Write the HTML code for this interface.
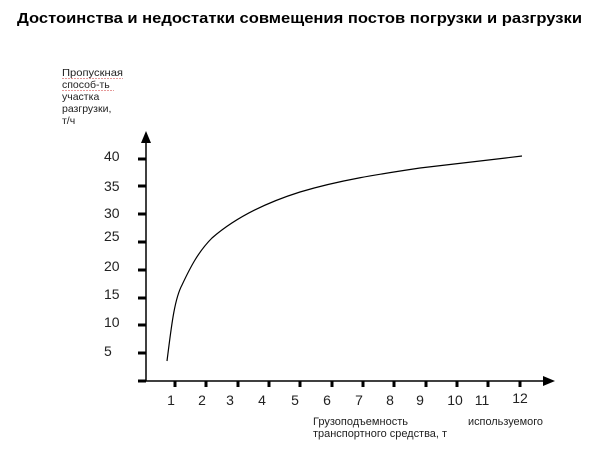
<!DOCTYPE html>
<html><head><meta charset="utf-8"><style>html,body{margin:0;padding:0;background:#fff}svg{display:block}</style></head>
<body>
<svg width="606" height="451" viewBox="0 0 606 451" xmlns="http://www.w3.org/2000/svg" font-family="Liberation Sans, sans-serif">
<text x="17" y="23" font-size="15" font-weight="bold" textLength="565" lengthAdjust="spacingAndGlyphs">Достоинства и недостатки совмещения постов погрузки и разгрузки</text>
<g font-size="10.5" fill="#222">
<text x="62" y="76" textLength="61" lengthAdjust="spacingAndGlyphs">Пропускная</text>
<text x="62" y="88">способ-ть</text>
<text x="62" y="100">участка</text>
<text x="62" y="112">разгрузки,</text>
<text x="62" y="124">т/ч</text>
</g>
<path d="M62 78.5h61M62 90.5h52" stroke="#c33" stroke-width="0.6" stroke-dasharray="2 1"/>
<line x1="146" y1="140" x2="146" y2="381" stroke="#000" stroke-width="1.5"/>
<polygon points="146,131 141,143 151,143" fill="#000"/>
<line x1="146" y1="381" x2="545" y2="381" stroke="#000" stroke-width="1.5"/>
<polygon points="555,381 543,376 543,386" fill="#000"/>
<g stroke="#000" stroke-width="3">
<path d="M138 159h8M138 186h8M138 214h8M138 242h8M138 270h8M138 298h8M138 325h8M138 353h8M138 381h8"/>
<path d="M175 381v6M206 381v6M238 381v6M269 381v6M300 381v6M332 381v6M363 381v6M394 381v6M426 381v6M457 381v6M488 381v6M520 381v6"/>
</g>
<g font-size="14" fill="#222">
<text x="104" y="161">40</text><text x="104" y="191">35</text><text x="104" y="218">30</text><text x="104" y="241">25</text><text x="104" y="271">20</text><text x="104" y="299">15</text><text x="104" y="327">10</text><text x="104" y="356">5</text>
</g>
<g font-size="14" fill="#222" text-anchor="middle">
<text x="171" y="405">1</text><text x="202" y="405">2</text><text x="230" y="405">3</text><text x="262" y="405">4</text><text x="295" y="405">5</text><text x="327" y="405">6</text><text x="359" y="405">7</text><text x="390" y="405">8</text><text x="420" y="405">9</text><text x="455" y="405">10</text><text x="482" y="405">11</text><text x="520" y="403">12</text>
</g>
<g font-size="11" fill="#222">
<text x="313" y="425" textLength="95" lengthAdjust="spacingAndGlyphs">Грузоподъемность</text>
<text x="313" y="437" textLength="134" lengthAdjust="spacingAndGlyphs">транспортного средства, т</text>
<text x="468" y="425" textLength="75" lengthAdjust="spacingAndGlyphs">используемого</text>
</g>
<path d="M167 361 C171 330 174 300 182 285 C190 268 198 252 212 238 C235 218 265 203 300 192 C340 180 380 174 420 168 C460 163 490 160 522 156" fill="none" stroke="#000" stroke-width="1.2"/>
</svg>
</body></html>
